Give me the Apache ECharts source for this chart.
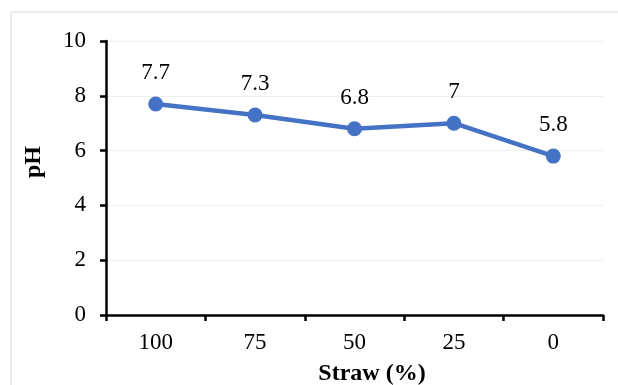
<!DOCTYPE html>
<html>
<head>
<meta charset="utf-8">
<script src="https://cdn.jsdelivr.net/npm/echarts@6/dist/echarts.min.js"></script>
<style>
  html, body { margin: 0; padding: 0; background: #fff; }
  #chart { width: 618px; height: 385px; }
</style>
</head>
<body>
<div id="chart"></div>
<script>
// Straw share (%) on the x axis and the measured pH for each mix
const strawLevels = ['100', '75', '50', '25', '0'];
const phValues = [7.7, 7.3, 6.8, 7, 5.8];
const yTicks = [0, 2, 4, 6, 8, 10];

const serif = '"Liberation Serif", "Times New Roman", serif';
const chart = echarts.init(document.getElementById('chart'), null, { renderer: 'canvas' });

chart.setOption({
  animation: false,
  backgroundColor: '#ffffff',
  grid: { left: 106, right: 15, top: 41, bottom: 70, containLabel: false },
  graphic: [
    {
      type: 'rect',
      shape: { x: 11, y: 12, width: 640, height: 400 },
      style: { fill: 'none', stroke: '#d9d9d9', lineWidth: 1 },
      silent: true
    },
    {
      type: 'text',
      x: 372, y: 374,
      style: {
        text: 'Straw (%)', font: 'bold 24px ' + serif, fill: '#000',
        align: 'center', verticalAlign: 'middle'
      }
    },
    {
      type: 'text',
      x: 34, y: 162, rotation: Math.PI / 2,
      style: {
        text: 'pH', font: 'bold 24px ' + serif, fill: '#000',
        align: 'center', verticalAlign: 'middle'
      }
    }
  ],
  xAxis: {
    type: 'category',
    data: strawLevels,
    boundaryGap: true,
    axisLine: { lineStyle: { color: '#000', width: 2.5 } },
    axisTick: { show: true, inside: false, length: 6, lineStyle: { color: '#000', width: 2.5 } },
    axisLabel: { color: '#000', fontFamily: serif, fontSize: 23, margin: 16 },
    splitLine: { show: false }
  },
  yAxis: {
    type: 'value',
    min: yTicks[0],
    max: yTicks[yTicks.length - 1],
    interval: 2,
    axisLine: { show: true, lineStyle: { color: '#000', width: 2.5 } },
    axisTick: { show: true, inside: false, length: 6, lineStyle: { color: '#000', width: 2.5 } },
    axisLabel: { color: '#000', fontFamily: serif, fontSize: 23, margin: 20 },
    splitLine: { show: true, lineStyle: { color: '#eeeeee', width: 1 } }
  },
  series: [{
    type: 'line',
    data: phValues,
    symbol: 'circle',
    symbolSize: 15,
    lineStyle: { color: '#4472c4', width: 4.5 },
    itemStyle: { color: '#4472c4' },
    label: {
      show: true,
      position: 'top',
      distance: 12,
      color: '#000',
      fontFamily: serif,
      fontSize: 23
    }
  }]
});
</script>
</body>
</html>
